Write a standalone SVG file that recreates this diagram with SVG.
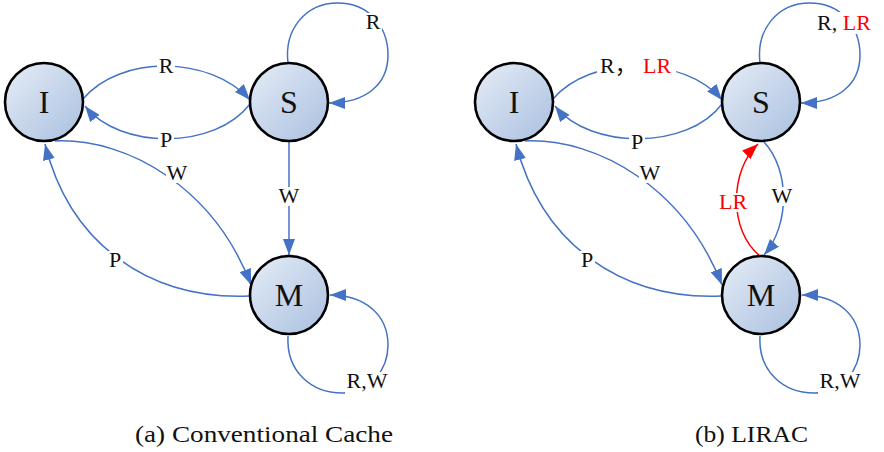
<svg xmlns="http://www.w3.org/2000/svg" width="884" height="452" viewBox="0 0 884 452">
  <defs>
    <linearGradient id="nodeFill" x1="0" y1="0" x2="1" y2="1">
      <stop offset="0" stop-color="#e6edf7"/>
      <stop offset="1" stop-color="#a9bfdf"/>
    </linearGradient>
    <marker id="arrowBlue" viewBox="0 0 16 12" refX="16" refY="6" markerWidth="16" markerHeight="12" markerUnits="userSpaceOnUse" orient="auto">
      <path d="M0,0 L16,6 L0,12 Z" fill="#4472c4"/>
    </marker>
    <marker id="arrowRed" viewBox="0 0 16 12" refX="16" refY="6" markerWidth="16" markerHeight="12" markerUnits="userSpaceOnUse" orient="auto">
      <path d="M0,0 L16,6 L0,12 Z" fill="#ff0000"/>
    </marker>
  </defs>
  <style>
    text { font-family: "Times New Roman", "Liberation Serif", Tinos, Times, serif; }
    .node circle { fill: url(#nodeFill); stroke: #000; stroke-width: 2.6; }
    .node text { font-size: 32px; text-anchor: middle; fill: #111; }
    .edge { fill: none; stroke: #4472c4; stroke-width: 1.5; }
    .edge.arrow { marker-end: url(#arrowBlue); }
    .edge.red { stroke: #ff0000; marker-end: url(#arrowRed); }
    .bg { fill: #fff; }
    .lbl { font-size: 22px; text-anchor: middle; fill: #111; }
    .cjk { font-family: "Times New Roman", "Liberation Serif", "Noto Sans CJK SC", serif; }
    .red-t { fill: #ff0000; }
    .caption { font-size: 23px; fill: #111; }
  </style>

  <rect width="884" height="452" fill="#fff"/>

  <!-- connectors -->
  <g id="connectors">
    <!-- (a) conventional cache -->
    <path class="edge arrow" d="M83,99 C120,55 210,55 250,100"/>
    <path class="edge arrow" d="M250,104 C215,150 120,150 85,106"/>
    <path class="edge arrow" d="M288,63 C284,30 305,3 338,3 C370,3 388,28 388,55 C388,85 365,103 329,103"/>
    <path class="edge arrow" d="M55,141 C130,138 215,190 251,285"/>
    <path class="edge arrow" d="M249,296 C150,300 70,245 45,144"/>
    <path class="edge arrow" d="M289,141 L289,255"/>
    <path class="edge arrow" d="M288,336 C286,372 312,393 342,393 C370,393 388,370 388,345 C388,315 365,295 330,295"/>

    <!-- (b) LIRAC -->
    <path class="edge arrow" d="M553,99 C590,55 685,55 722,100"/>
    <path class="edge arrow" d="M722,104 C688,150 590,150 555,106"/>
    <path class="edge arrow" d="M760,63 C756,30 777,3 810,3 C842,3 860,28 860,55 C860,85 837,103 801,103"/>
    <path class="edge arrow" d="M525,141 C600,138 685,190 722,285"/>
    <path class="edge arrow" d="M721,296 C622,300 542,245 516,144"/>
    <path class="edge arrow" d="M764,142 C790,170 790,225 764,255"/>
    <path class="edge red" d="M760,256 C728,230 730,170 758,144"/>
    <path class="edge arrow" d="M760,336 C758,372 784,393 814,393 C842,393 860,370 860,345 C860,315 837,295 802,295"/>

    <!-- label backgrounds: gaps in the lines behind each label -->
    <rect class="bg" x="157" y="57" width="18" height="19"/>
    <rect class="bg" x="158" y="131" width="16" height="19"/>
    <rect class="bg" x="364" y="13" width="18" height="19"/>
    <rect class="bg" x="166" y="164" width="22" height="19"/>
    <rect class="bg" x="107" y="251" width="16" height="19"/>
    <rect class="bg" x="278" y="187" width="22" height="19"/>
    <rect class="bg" x="345" y="372" width="44" height="22"/>

    <rect class="bg" x="597" y="57" width="79" height="19"/>
    <rect class="bg" x="629" y="133" width="16" height="19"/>
    <rect class="bg" x="814" y="12" width="62" height="22"/>
    <rect class="bg" x="639" y="164" width="22" height="19"/>
    <rect class="bg" x="579" y="251" width="16" height="19"/>
    <rect class="bg" x="771" y="187" width="22" height="19"/>
    <rect class="bg" x="719" y="193" width="28" height="19"/>
    <rect class="bg" x="818" y="372" width="44" height="22"/>

    <!-- edge labels -->
    <text class="lbl" x="166" y="73">R</text>
    <text class="lbl" x="166" y="147">P</text>
    <text class="lbl" x="373" y="29">R</text>
    <text class="lbl" x="177" y="180">W</text>
    <text class="lbl" x="115" y="267">P</text>
    <text class="lbl" x="289" y="203">W</text>
    <text class="lbl" x="367" y="388">R,W</text>

    <text class="lbl cjk" x="600" y="73" style="text-anchor:start">R，<tspan class="red-t" x="643">LR</tspan></text>
    <text class="lbl" x="637" y="149">P</text>
    <text class="lbl" x="817" y="30" style="text-anchor:start">R, <tspan class="red-t">LR</tspan></text>
    <text class="lbl" x="650" y="180">W</text>
    <text class="lbl" x="587" y="267">P</text>
    <text class="lbl" x="782" y="203">W</text>
    <text class="lbl red-t" x="733" y="209">LR</text>
    <text class="lbl" x="840" y="388">R,W</text>
  </g>

  <!-- (a) nodes -->
  <g id="a-I" class="node"><circle cx="44" cy="102" r="39"/><text x="44" y="113">I</text></g>
  <g id="a-S" class="node"><circle cx="289" cy="102" r="39"/><text x="289" y="113">S</text></g>
  <g id="a-M" class="node"><circle cx="289" cy="295" r="39"/><text x="289" y="306">M</text></g>

  <!-- (b) nodes -->
  <g id="b-I" class="node"><circle cx="514" cy="102" r="39"/><text x="514" y="113">I</text></g>
  <g id="b-S" class="node"><circle cx="761" cy="102" r="39"/><text x="761" y="113">S</text></g>
  <g id="b-M" class="node"><circle cx="761" cy="295" r="39"/><text x="761" y="306">M</text></g>

  <!-- captions -->
  <text class="caption" x="135" y="442" textLength="258" lengthAdjust="spacingAndGlyphs">(a) Conventional Cache</text>
  <text class="caption" x="695" y="442" textLength="113" lengthAdjust="spacingAndGlyphs">(b) LIRAC</text>
</svg>
